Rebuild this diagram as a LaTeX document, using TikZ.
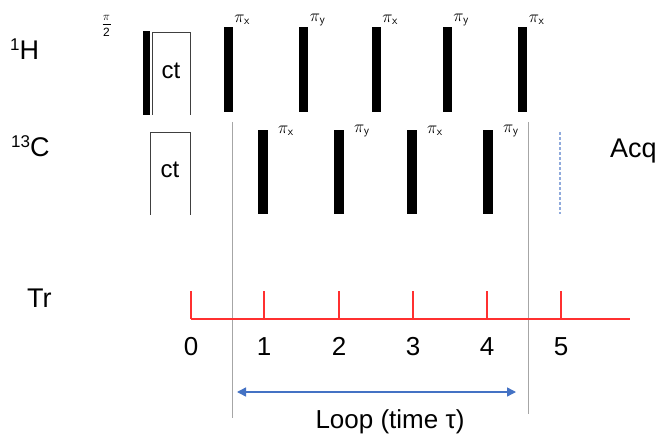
\documentclass[tikz,border=0pt]{standalone}
\usepackage{fontspec}
\setmainfont{Liberation Sans}
\usetikzlibrary{arrows.meta}
\definecolor{gline}{HTML}{A6A6A6}
\definecolor{tred}{HTML}{FF3030}
\definecolor{abl}{HTML}{4472C4}
\definecolor{lbl}{HTML}{8FAADC}
\begin{document}
\begin{tikzpicture}[x=1pt,y=-1pt,
  hpulse/.style={draw=none,fill=black,inner sep=0pt,minimum width=9pt,minimum height=85pt},
  cpulse/.style={draw=none,fill=black,inner sep=0pt,minimum width=9.5pt,minimum height=84pt},
  lab/.style={font=\fontsize{27}{30}\selectfont,inner sep=0pt},
  num/.style={font=\fontsize{26}{30}\selectfont,inner sep=0pt},
  plab/.style={font=\fontsize{17}{18}\selectfont,inner sep=0pt},
  ctbox/.style={draw=black!75,line width=0.8pt},
  gl/.style={draw=gline,line width=1pt},
  redline/.style={draw=tred,line width=1.8pt}]
\useasboundingbox (0,0) rectangle (660,435);
% labels
\node[lab,anchor=base west] (lH) at (10,60) {\raisebox{9pt}{\fontsize{17}{17}\selectfont 1}H};
\node[lab,anchor=base west] (lC) at (11,157) {\raisebox{9pt}{\fontsize{17}{17}\selectfont 13}C};
\node[lab,anchor=base west] (lTr) at (27,307) {Tr};
\node[lab,anchor=base west] (lAcq) at (610,158) {Acq};
% pi/2 pulse
\node[fill=black,inner sep=0pt,minimum width=7pt,minimum height=84pt] (p90) at (146.5,73) {};
\node[inner sep=0pt,font=\fontsize{13}{13}\selectfont] (p90n) at (106.5,17.5) {$\pi$};
\coordinate (fb1) at (102.5,24); \coordinate (fb2) at (110.5,24);
\draw[line width=0.7pt] (fb1) -- (fb2);
\node[inner sep=0pt,font=\fontsize{12}{12}\selectfont] (p90d) at (106.5,32.5) {2};
% ct boxes
\node[font=\fontsize{24}{28}\selectfont,inner sep=0pt] (cth) at (171,71) {ct};
\draw[ctbox] (152,115) -- (152,32) -- (190,32) -- (190,115);
\node[font=\fontsize{24}{28}\selectfont,inner sep=0pt] (ctc) at (170,170) {ct};
\draw[ctbox] (150,215) -- (150,132) -- (190,132) -- (190,215);
% H pulses
\foreach \n/\x/\s in {1/228/x,2/303.5/y,3/376/x,4/447/y,5/522.5/x}{
  \node[hpulse] (h\n) at (\x,69.5) {};
  \node[plab,anchor=west] (hl\n) at ([xshift=1.5pt,yshift=7pt]h\n.north east) {$\pi_{\mathsf{\s}}$};
}
% C pulses
\foreach \n/\x/\s in {1/263/x,2/339/y,3/412/x,4/488/y}{
  \node[cpulse] (c\n) at (\x,172) {};
  \node[plab,anchor=west] (cl\n) at ([xshift=10pt,yshift=-1pt]c\n.north east) {$\pi_{\mathsf{\s}}$};
}
% gray loop lines
\coordinate (g1t) at (232,122); \coordinate (g1b) at (232,418);
\coordinate (g2t) at (528,122); \coordinate (g2b) at (528,414);
\draw[gl] (g1t) -- (g1b);
\draw[gl] (g2t) -- (g2b);
% acquisition dashed line
\coordinate (aqt) at (560,132); \coordinate (aqb) at (560,214);
\draw[lbl,line width=1.3pt,dash pattern=on 3pt off 2pt] (aqt) -- (aqb);
% Tr axis
\coordinate (ta) at (191,319); \coordinate (tb) at (630,319);
\draw[redline] (ta) -- (tb);
\foreach \n/\x in {0/191,1/264,2/339,3/413,4/487,5/561}{
  \coordinate (t\n) at (\x,319);
  \draw[redline] (t\n) -- ++(0,-28);
  \node[num] (n\n) at (\x,346.5) {\n};
}
% loop arrow
\coordinate (la) at (237,392); \coordinate (lb) at (516,392);
\draw[abl,line width=1.4pt,{Triangle[length=9pt,width=9pt]}-{Triangle[length=9pt,width=9pt]}] (la) -- (lb);
\node[num,anchor=base] (loop) at (390,428) {Loop (time τ)};
\end{tikzpicture}
\end{document}
